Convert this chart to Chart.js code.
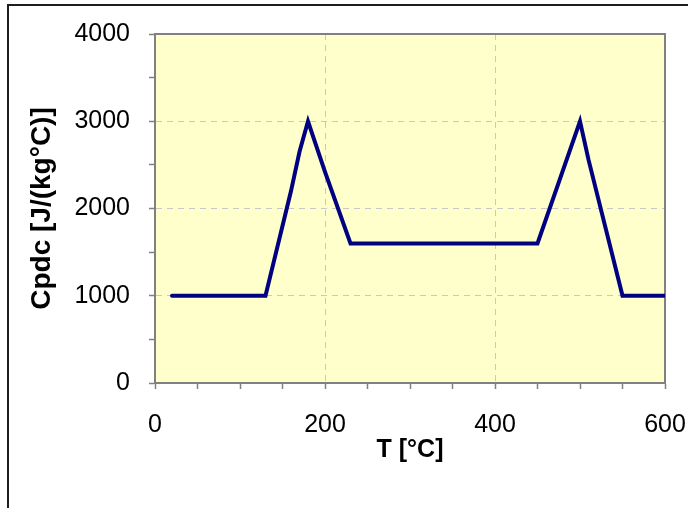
<!DOCTYPE html>
<html>
<head>
<meta charset="utf-8">
<script src="https://cdn.jsdelivr.net/npm/chart.js@4/dist/chart.umd.min.js"></script>
<style>
  html, body { margin: 0; padding: 0; background: #ffffff; }
  #wrap  { position: relative; width: 688px; height: 508px; overflow: hidden; }
  #frame { position: absolute; left: 7px; top: 4px; width: 720px; height: 540px;
           border: 2px solid #1e1e1e; pointer-events: none; }
  canvas { position: absolute; left: 0; top: 0; }
</style>
</head>
<body>
<div id="wrap">
  <canvas id="chart" width="688" height="508"></canvas>
  <div id="frame"></div>
</div>
<script>
/* ── DATA ── */
const tempC   = [20, 130, 160, 170, 180, 200, 230, 450, 500, 510, 550, 600];
const cpdc    = [1000, 1000, 2200, 2650, 3000, 2420, 1600, 1600, 3000, 2560, 1000, 1000];
const xLabels = [0, 200, 400, 600];
const yLabels = [0, 1000, 2000, 3000, 4000];

const FONT = "'Liberation Sans', Arial, sans-serif";

/* plot background + frame */
const plotArea = {
  id: 'plotArea',
  beforeDraw(chart) {
    const { ctx, chartArea: a } = chart;
    ctx.save();
    ctx.fillStyle = '#ffffcc';
    ctx.fillRect(a.left, a.top, a.right - a.left, a.bottom - a.top);
    ctx.restore();
  },
  beforeDatasetsDraw(chart) {
    const { ctx, chartArea: a } = chart;
    ctx.save();
    ctx.strokeStyle = '#808080';
    ctx.lineWidth = 2;
    ctx.strokeRect(a.left, a.top, a.right - a.left, a.bottom - a.top);
    ctx.restore();
  }
};

new Chart(document.getElementById('chart').getContext('2d'), {
  type: 'line',
  data: {
    datasets: [{
      data: tempC.map((t, i) => ({ x: t, y: cpdc[i] })),
      borderColor: '#000080',
      borderWidth: 4,
      borderCapStyle: 'round',
      pointRadius: 0,
      tension: 0,
      fill: false
    }]
  },
  options: {
    responsive: false,
    animation: false,
    layout: { padding: { top: 33, right: 23, bottom: 0, left: 0 } },
    plugins: { legend: { display: false }, tooltip: { enabled: false } },
    scales: {
      x: {
        type: 'linear',
        min: 0, max: 600,
        afterFit: s => { s.height = 125; s.paddingLeft = 0; s.paddingRight = 20; },
        border: { color: '#808080', width: 2, dash: [6, 5] },
        grid: {
          color: c => (xLabels.includes(c.tick.value) && c.tick.value !== 0 && c.tick.value !== 600) ? '#c8c8c8' : 'transparent',
          tickColor: '#808080',
          tickBorderDash: [],
          tickLength: 6,
          tickWidth: 1.5
        },
        ticks: {
          stepSize: 50,
          autoSkip: false,
          maxRotation: 0,
          padding: 21,
          color: '#000',
          font: { family: FONT, size: 25 },
          callback: v => xLabels.includes(v) ? String(v) : ''
        },
        title: {
          display: true,
          text: 'T [°C]',
          color: '#000',
          font: { family: FONT, size: 25, weight: 'bold' },
          padding: { top: 0, bottom: 43 }
        }
      },
      y: {
        min: 0, max: 4000,
        afterFit: s => { s.width = 155; },
        border: { color: '#808080', width: 2, dash: [6, 5] },
        grid: {
          color: c => (yLabels.includes(c.tick.value) && c.tick.value !== 0 && c.tick.value !== 4000) ? '#c8c8c8' : 'transparent',
          tickColor: '#808080',
          tickBorderDash: [],
          tickLength: 6,
          tickWidth: 1.5
        },
        ticks: {
          stepSize: 500,
          autoSkip: false,
          padding: 19,
          color: '#000',
          font: { family: FONT, size: 25 },
          callback: v => yLabels.includes(v) ? String(v) : ''
        },
        title: {
          display: true,
          text: 'Cpdc [J/(kg°C)]',
          color: '#000',
          font: { family: FONT, size: 28, weight: 'bold' },
          padding: { top: 25, bottom: 0 }
        }
      }
    }
  },
  plugins: [plotArea]
});
</script>
</body>
</html>
